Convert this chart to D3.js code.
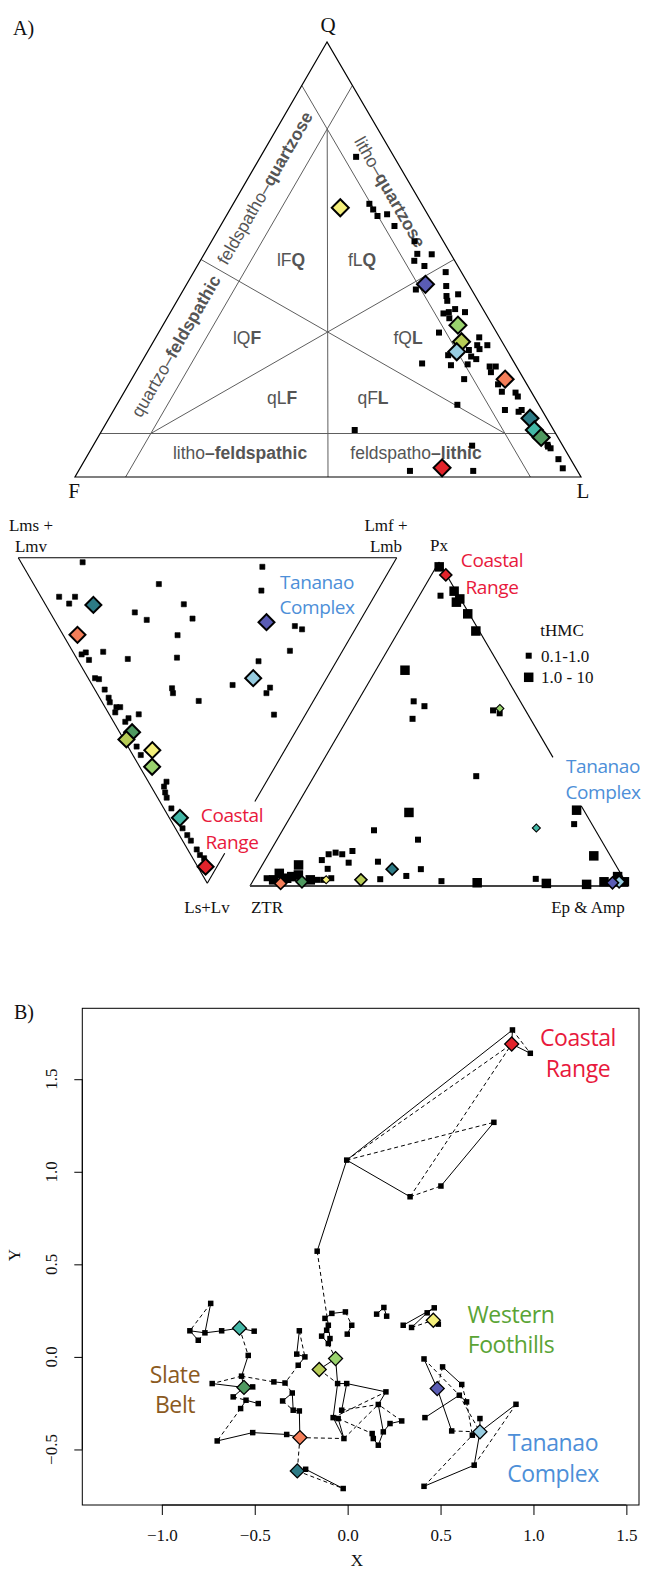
<!DOCTYPE html>
<html>
<head>
<meta charset="utf-8">
<script src="https://cdn.jsdelivr.net/npm/d3@7"></script>
<style>
  body { margin: 0; background: #fff; }
  svg { display: block; }
  .serif { font-family: "Liberation Serif", "Times New Roman", serif; fill: #111; }
  .field { font-family: "Liberation Sans", Arial, sans-serif; fill: #555; font-size: 17.5px; }
  .group { font-family: "Open Sans", "Noto Sans", sans-serif; letter-spacing: -0.4px; }
</style>
</head>
<body>
<svg id="fig" width="646" height="1569"></svg>
<script>
// ---- sample colours (diamonds, same order in every panel)
const sampleColors = ["#f4ef7b", "#5a5cb4", "#9ad36e", "#b7cc56", "#97cce0",
                      "#f47e59", "#2d7b86", "#43b7a6", "#4f9960", "#e2232b"];

// ---- A) QFL, values in % [Q, F, L]
const qflPoints = [
  [73.6,7.5,18.9],[62.8,10.3,26.9],[61.5,10.2,28.3],[60.0,10.1,29.9],[60.4,8.0,31.6],
  [57.7,7.9,34.4],[54.2,5.7,40.1],[51.3,6.6,42.1],[51.2,3.8,45.0],[49.7,8.0,42.3],
  [48.5,6.6,44.9],[47.1,3.1,49.8],[43.1,11.0,45.9],[43.9,4.6,51.5],[41.6,5.7,52.7],
  [42.0,3.2,54.8],[40.5,6.1,53.4],[37.6,8.3,54.1],[37.9,7.1,55.0],[38.6,5.5,55.9],
  [37.9,3.9,58.2],[36.5,7.7,55.8],[33.2,11.4,55.4],[32.1,4.0,63.9],[30.3,5.3,64.4],
  [30.3,3.3,66.4],[29.4,5.3,65.3],[28.0,12.2,59.8],[29.2,7.5,63.3],[27.7,7.8,64.5],
  [27.1,7.1,65.8],[26.1,18.3,55.6],[25.7,12.8,61.5],[25.9,9.4,64.7],[25.4,5.3,69.3],
  [25.4,4.1,70.5],[24.1,5.7,70.2],[21.3,5.7,73.0],[22.5,11.8,65.7],[19.6,5.8,74.6],
  [19.4,3.2,77.4],[18.5,3.2,78.3],[16.6,16.1,67.3],[15.4,7.3,77.3],[15.0,4.8,80.2],
  [15.4,4.0,80.6],[7.4,2.9,89.7],[6.6,2.7,90.7],[7.0,3.0,90.0],[4.1,2.4,93.5],[2.0,2.6,95.4],
  [10.8,39.3,49.9],[7.2,17.9,74.9],[1.4,33.1,65.5],[1.4,20.6,78.0]
];
const qflSamples = [
  [61.9,16.5,21.6],[44.3,8.5,47.2],[34.9,6.8,58.3],[31.1,8.0,60.9],[28.8,10.1,61.1],
  [22.5,3.7,73.8],[13.5,3.3,83.2],[10.8,3.8,85.4],[9.1,3.3,87.6],[2.1,26.4,71.5]
];

// ---- lithic fragments [Lms+Lmv, Lmf+Lmb, Ls+Lv]
const lithPoints = [
  [82.3,16.3,1.4],[58.8,33.1,8.1],[34.1,63.1,2.8],[30.7,59.2,10.1],[83.2,4.8,12.0],
  [79.0,9.0,12.0],[79.5,6.4,14.1],[60.8,22.4,16.8],[56.5,24.4,19.1],[49.1,36.6,14.3],
  [44.6,36.7,18.7],[16.4,62.6,21.0],[14.0,64.0,22.0],[46.0,30.2,23.8],[13.9,57.5,28.6],
  [68.4,1.9,29.7],[67.6,3.3,29.1],[65.6,3.0,31.4],[63.1,8.0,28.9],[55.5,13.4,31.1],
  [42.7,26.6,30.7],[20.6,47.6,31.8],[23.8,37.1,39.1],[13.5,46.6,39.9],[13.6,44.8,41.6],
  [8.3,43.5,48.2],[61.2,1.8,37.0],[60.0,2.7,37.3],[56.9,2.6,40.5],[39.3,20.6,40.1],
  [38.3,20.1,41.6],[30.3,25.7,44.0],[54.6,2.4,43.0],[53.6,2.0,44.4],[51.1,3.0,45.9],
  [50.1,4.0,45.9],[50.6,1.9,47.5],[46.2,4.5,49.3],[46.5,3.1,50.4],[44.1,7.8,48.1],
  [39.7,2.3,58.0],[37.3,2.1,60.6],[26.4,4.8,68.8],[26.3,3.4,70.3],[25.1,2.8,72.1],
  [23.9,2.4,73.7],[21.0,2.0,77.0],[15.0,1.9,83.1],[12.7,2.1,85.2],[10.9,2.2,86.9],
  [8.0,2.4,89.6],[6.3,2.4,91.3],[4.7,3.0,92.3]
];
const lithSamples = [
  [35.0,5.9,59.1],[24.5,55.7,19.8],[32.5,3.3,64.2],[43.5,0.7,55.8],[19.4,43.6,37.0],
  [72.5,3.8,23.7],[72.9,12.6,14.5],[17.3,2.8,79.9],[43.1,3.3,53.6],[3.0,2.1,94.9]
];

// ---- heavy minerals [Px, ZTR, Ep & Amp, tHMC class 0: 0.1-1.0, 1: 1.0-10]
const hmPoints = [
  [98.5,0.7,0.8,1],[91.0,0.5,8.5,1],[88.6,0.2,11.2,1],[87.6,1.6,10.8,1],[89.6,4.8,5.6,0],
  [84.0,0.4,15.6,1],[78.7,0.9,20.4,1],[66.6,25.7,7.7,1],[57.0,28.2,14.8,0],[55.5,26.1,18.4,0],
  [51.6,31.2,17.2,0],[54.2,8.6,37.2,0],[53.3,7.3,39.4,0],[33.9,23.2,42.9,0],[22.7,46.6,30.7,1],
  [23.4,1.9,74.7,1],[19.1,4.7,76.2,0],[17.2,58.6,24.2,0],[14.3,48.4,37.3,0],[9.3,4.4,86.3,1],
  [10.8,67.5,21.7,0],[9.8,70.7,19.5,0],[10.3,72.2,17.5,0],[9.8,74.3,15.9,0],[8.0,77.0,15.0,0],
  [7.2,70.3,22.5,0],[7.5,62.4,30.1,0],[5.2,52.2,42.6,0],[5.3,76.8,17.9,0],[6.5,83.9,9.6,1],
  [2.4,77.3,20.3,0],[1.9,81.3,16.8,0],[1.9,79.7,18.4,0],[3.1,57.1,39.8,0],[2.1,64.5,33.4,0],
  [1.5,48.6,49.9,0],[1.0,39.4,59.6,1],[2.2,23.3,74.5,0],[0.8,21.2,78.0,1],[0.5,10.7,88.8,1],
  [1.3,5.7,93.0,1],[2.9,1.3,95.8,1],[1.3,0.3,98.4,1],[2.4,94.4,3.2,0],[3.9,90.3,5.8,1],
  [1.9,92.8,5.3,1],[2.4,89.1,8.5,1],[2.9,87.5,9.6,1],[3.4,85.5,11.1,1],[1.9,83.1,15.0,1]
];
const hmSamples = [
  [1.9,78.9,19.2,0],[1.0,3.6,95.4,1],[54.8,6.5,38.7,0],[1.9,69.7,28.4,1],[1.3,1.7,97.0,1],
  [0.8,91.5,7.7,1],[5.2,59.8,35.0,1],[17.9,15.3,66.8,0],[1.3,85.6,13.1,1],[96.0,0.2,3.8,1]
];

// ---- B) MDS configuration [id, X, Y]
const mdsNodes = [
  ["u1",0.887,1.766],["CR",0.883,1.690],["u2",0.983,1.640],["u3",0.787,1.267],["u4",-0.005,1.063],
  ["u5",0.336,0.865],["u6",0.502,0.923],["u7",-0.164,0.571],
  ["l1",-0.737,0.289],["l2",-0.849,0.141],["l3",-0.804,0.090],["l4",-0.768,0.130],["l5",-0.678,0.141],
  ["TE",-0.582,0.155],["l6",-0.503,0.139],["l7",-0.535,0.008],["l8",-0.571,-0.104],
  ["m1",-0.260,0.141],["m2",-0.274,0.015],["m3",-0.230,0.000],["m4",-0.266,-0.045],
  ["k1",-0.122,0.208],["k2",-0.085,0.235],["k3",-0.012,0.243],["k4",0.022,0.171],["k5",-0.002,0.123],
  ["k6",-0.104,0.171],["k7",-0.113,0.144],["k8",-0.140,0.112],["k9",-0.095,0.099],["k10",-0.104,0.072],
  ["LG",-0.065,-0.009],["OL",-0.153,-0.068],
  ["r1",0.195,0.267],["r2",0.156,0.231],["r3",0.210,0.220],["r4",0.299,0.171],["r5",0.344,0.159],
  ["r6",0.428,0.238],["r7",0.466,0.265],["YE",0.461,0.198],["r8",0.488,0.177],
  ["s1",0.411,-0.011],["s2",0.511,-0.054],["s3",0.614,-0.149],["PU",0.482,-0.171],["s4",0.601,-0.207],
  ["s5",0.640,-0.243],["s6",0.416,-0.328],["s7",0.560,-0.400],["s8",0.712,-0.333],["LB",0.712,-0.405],
  ["s9",0.671,-0.423],["s10",0.906,-0.256],["s11",0.681,-0.585],["s12",0.411,-0.699],
  ["w1",-0.054,-0.144],["w2",-0.005,-0.144],["w3",0.206,-0.189],["w4",0.165,-0.257],["w5",-0.032,-0.288],
  ["w6",-0.078,-0.328],["w7",-0.051,-0.333],["w8",-0.020,-0.441],["w9",0.192,-0.405],["w10",0.228,-0.360],
  ["w11",0.291,-0.346],["w12",0.132,-0.414],["w13",0.138,-0.441],["w14",0.165,-0.477],["w15",-0.024,-0.711],
  ["v1",-0.729,-0.144],["DG",-0.558,-0.165],["v2",-0.511,-0.162],["v3",-0.616,-0.216],["v4",-0.547,-0.234],
  ["v5",-0.481,-0.252],["v6",-0.576,-0.279],["v7",-0.397,-0.135],["v8",-0.337,-0.141],["v9",-0.298,-0.195],
  ["v10",-0.350,-0.238],["v11",-0.293,-0.288],["v12",-0.260,-0.292],["v13",-0.702,-0.454],["v14",-0.511,-0.409],
  ["v15",-0.328,-0.419],["OR",-0.257,-0.436],["DT",-0.271,-0.616],["v16",-0.226,-0.607]
];
// diamonds: node id -> sample index
const mdsMarked = [["YE",0],["PU",1],["LG",2],["OL",3],["LB",4],["OR",5],["DT",6],["TE",7],["DG",8],["CR",9]];
// nearest neighbour (solid) and second nearest (dashed)
const mdsSolid = [
  ["u4","u1"],["u4","u5"],["u6","u3"],["u1","CR"],["CR","u2"],["u4","u7"],
  ["l1","l4"],["l2","l4"],["l2","l3"],["l4","l5"],["l5","TE"],["TE","l6"],["l7","l8"],
  ["m1","m2"],["m2","m3"],["m3","m4"],
  ["k1","k2"],["k2","k3"],["k4","k5"],["k6","k7"],["k7","k8"],["k8","k10"],["k9","k10"],["LG","OL"],["LG","w1"],
  ["r1","r2"],["r1","r3"],["r4","r7"],["r5","r6"],["r6","r7"],["YE","r8"],
  ["s1","PU"],["s2","s3"],["PU","s7"],["s6","s4"],["s4","s5"],["LB","s8"],["LB","s10"],["LB","s11"],["s11","s12"],
  ["w2","w3"],["w3","w4"],["w1","w2"],["w2","w5"],["w1","w6"],["w6","w8"],["w7","w8"],["w4","w9"],
  ["w9","w10"],["w10","w11"],["w12","w13"],["w13","w14"],["w9","w14"],
  ["v1","DG"],["l8","DG"],["DG","v2"],["DG","v3"],["v4","v5"],["v4","v6"],["v13","v14"],["v14","v15"],
  ["v15","OR"],["OR","v12"],["v11","v12"],["v9","v10"],["v9","v11"],["v7","v8"],["DT","v16"],["v16","w15"]
];
const mdsDashed = [
  ["u4","CR"],["u4","u3"],["u5","u6"],["u5","CR"],["u1","u2"],["u7","k6"],
  ["l1","l2"],["l3","l4"],["TE","l7"],["l8","v1"],["l8","v7"],
  ["m1","m3"],["m4","v8"],
  ["k3","k4"],["k6","k9"],["k10","LG"],["OL","w1"],["r5","YE"],
  ["s1","s4"],["s2","PU"],["s3","s5"],["s5","s9"],["s4","LB"],["s7","LB"],["s12","s9"],["s11","s10"],
  ["w5","w4"],["w6","w3"],["w8","w4"],["w7","w12"],["w11","w4"],
  ["v3","v4"],["v6","v13"],["v8","v9"],["v10","v11"],["OR","w8"],["OR","DT"],["DT","w15"]
];
const xTicks = [-1.0, -0.5, 0.0, 0.5, 1.0, 1.5];
const yTicks = [-0.5, 0.0, 0.5, 1.0, 1.5];

// ------------------------------------------------------------------
const svg = d3.select("#fig");

// barycentric projection onto a triangle A, B, C
function tern(A, B, C) {
  return d => {
    const s = d[0] + d[1] + d[2];
    return [(d[0]*A[0] + d[1]*B[0] + d[2]*C[0]) / s, (d[0]*A[1] + d[1]*B[1] + d[2]*C[1]) / s];
  };
}
const square = s => d3.symbol(d3.symbolSquare, s * s)();
const diamond = r => d3.symbol(d3.symbolSquare, 2 * r * r)();

function seg(g, p, a, b, stroke, width) {
  const pa = p(a), pb = p(b);
  g.append("line").attr("x1", pa[0]).attr("y1", pa[1]).attr("x2", pb[0]).attr("y2", pb[1])
    .attr("stroke", stroke).attr("stroke-width", width || 1);
}
function drawDiamonds(g, p, data, r, order) {
  g.selectAll(null).data(order.map(i => ({d: data[i], i: i}))).join("path")
    .attr("d", o => diamond(typeof r === "function" ? r(o.d) : r))
    .attr("transform", o => `translate(${p(o.d)}) rotate(45)`)
    .attr("fill", o => sampleColors[o.i]).attr("stroke", "#000")
    .attr("stroke-width", typeof r === "function" ? (o => r(o.d) > 5 ? 1.6 : 1.1) : 2);
}
function twoLines(g, x, y, gap, lines, size, color, cls) {
  const t = g.append("text").attr("class", cls).attr("text-anchor", "middle")
    .attr("font-size", size).attr("fill", color);
  lines.forEach((s, i) => t.append("tspan").attr("x", x).attr("y", y + i * gap).text(s));
}

// ---------------- A) QFL ----------------
const gA = svg.append("g");
const Qv = [327, 42], Fv = [75, 477], Lv = [581, 477];
const pq = tern(Qv, Fv, Lv);

gA.append("text").attr("class", "serif").attr("x", 13).attr("y", 35).attr("font-size", 20).text("A)");

const grid = gA.append("g");
[[[90,10,0],[0,10,90]], [[90,0,10],[0,90,10]], [[10,90,0],[10,0,90]],
 [[80,10,10],[0,50,50]], [[10,80,10],[50,0,50]], [[10,10,80],[50,50,0]]]
  .forEach(s => seg(grid, pq, s[0], s[1], "#5e5e5e", 1));
gA.append("path").attr("d", "M" + [pq([100,0,0]), pq([0,100,0]), pq([0,0,100])].join("L") + "Z")
  .attr("fill", "none").attr("stroke", "#000").attr("stroke-width", 1.2);

gA.append("text").attr("class", "serif").attr("x", 328).attr("y", 32).attr("text-anchor", "middle").attr("font-size", 21).text("Q");
gA.append("text").attr("class", "serif").attr("x", 74).attr("y", 498).attr("text-anchor", "middle").attr("font-size", 21).text("F");
gA.append("text").attr("class", "serif").attr("x", 583).attr("y", 498).attr("text-anchor", "middle").attr("font-size", 21).text("L");

function fieldLabel(x, y, rot, normal, bold) {
  const t = gA.append("text").attr("class", "field").attr("text-anchor", "middle")
    .attr("dominant-baseline", "central").attr("transform", `translate(${x},${y}) rotate(${rot})`);
  t.append("tspan").text(normal);
  t.append("tspan").attr("font-weight", "bold").text(bold);
}
fieldLabel(265, 188, -60, "feldspatho–", "quartzose");
fieldLabel(176, 346, -60, "quartzo–", "feldspathic");
fieldLabel(390, 192, 60, "litho–", "quartzose");
fieldLabel(240, 453, 0, "litho", "–feldspathic");
fieldLabel(416, 453, 0, "feldspatho", "–lithic");
fieldLabel(291, 260, 0, "lF", "Q");
fieldLabel(362, 260, 0, "fL", "Q");
fieldLabel(247, 338, 0, "lQ", "F");
fieldLabel(408, 338, 0, "fQ", "L");
fieldLabel(282, 398, 0, "qL", "F");
fieldLabel(373, 398, 0, "qF", "L");

gA.append("g").selectAll("path").data(qflPoints).join("path")
  .attr("d", square(6)).attr("transform", d => `translate(${pq(d)})`).attr("fill", "#000");
drawDiamonds(gA, pq, qflSamples, 8.5, d3.range(10));

// ---------------- lithic fragments (inverted triangle) ----------------
const gL = svg.append("g");
const LmsV = [18.3, 557.7], LmfV = [396.7, 557.7], LsvV = [207.3, 883.3];
const pl = tern(LmsV, LmfV, LsvV);
seg(gL, pl, [100,0,0], [0,100,0], "#000", 1.1);
seg(gL, pl, [100,0,0], [0,0,100], "#000", 1.1);
seg(gL, pl, [0,100,0], [0,25.1,74.9], "#000", 1.1);
seg(gL, pl, [0,9.2,90.8], [0,0,100], "#000", 1.1);
gL.append("g").selectAll("path").data(lithPoints).join("path")
  .attr("d", d3.symbol(d3.symbolSquare, 26)()).attr("stroke", "#000").attr("stroke-width", 0.6)
  .attr("stroke-linejoin", "round").attr("transform", d => `translate(${pl(d)})`).attr("fill", "#000");
drawDiamonds(gL, pl, lithSamples, 8, [8,0,1,2,3,4,5,6,7,9]);

twoLines(gL, 31, 531, 21, ["Lms +", "Lmv"], 17, "#111", "serif");
twoLines(gL, 386, 531, 21, ["Lmf +", "Lmb"], 17, "#111", "serif");
gL.append("text").attr("class", "serif").attr("x", 207).attr("y", 913).attr("text-anchor", "middle").attr("font-size", 17).text("Ls+Lv");
twoLines(gL, 317, 589, 25, ["Tananao", "Complex"], 19, "#4d8fd8", "group");
twoLines(gL, 232, 822, 26.5, ["Coastal", "Range"], 19, "#e8193c", "group");

// ---------------- heavy minerals ----------------
const gH = svg.append("g");
const PxV = [439, 562], ZtrV = [250, 886], EpV = [628, 886];
const ph = tern(PxV, ZtrV, EpV);
seg(gH, ph, [0,100,0], [100,0,0], "#000", 1.1);
seg(gH, ph, [0,100,0], [0,0,100], "#444", 1.8);
seg(gH, ph, [100,0,0], [39.7,0,60.3], "#000", 1.1);
seg(gH, ph, [24.7,0,75.3], [0,0,100], "#000", 1.1);
gH.append("g").selectAll("path").data(hmPoints).join("path")
  .attr("d", d => square(d[3] ? 9.5 : 6)).attr("transform", d => `translate(${ph(d)})`).attr("fill", "#000");
drawDiamonds(gH, ph, hmSamples, d => d[3] ? 6 : 4, [4,0,1,2,3,5,6,7,8,9]);

gH.append("text").attr("class", "serif").attr("x", 439).attr("y", 551).attr("text-anchor", "middle").attr("font-size", 17).text("Px");
gH.append("text").attr("class", "serif").attr("x", 267).attr("y", 913).attr("text-anchor", "middle").attr("font-size", 17).text("ZTR");
gH.append("text").attr("class", "serif").attr("x", 588).attr("y", 913).attr("text-anchor", "middle").attr("font-size", 17).text("Ep & Amp");
twoLines(gH, 492, 567, 26.5, ["Coastal", "Range"], 19, "#e8193c", "group");
twoLines(gH, 603, 773, 26, ["Tananao", "Complex"], 19, "#4d8fd8", "group");

// tHMC legend
const leg = gH.append("g");
leg.append("text").attr("class", "serif").attr("x", 562).attr("y", 636).attr("text-anchor", "middle").attr("font-size", 17).text("tHMC");
[["0.1-1.0", 6, 655.7], ["1.0 - 10", 9.5, 677.3]].forEach(r => {
  leg.append("path").attr("d", square(r[1])).attr("transform", `translate(528.7,${r[2]})`).attr("fill", "#000");
  leg.append("text").attr("class", "serif").attr("x", 541).attr("y", r[2] + 6).attr("font-size", 17).text(r[0]);
});

// ---------------- B) MDS ----------------
const gB = svg.append("g");
const mx = d3.scaleLinear().domain([-1.428, 1.568]).range([82.3, 639]);
const my = d3.scaleLinear().domain([-0.80, 1.883]).range([1505, 1008.3]);
const nodeById = new Map(mdsNodes.map(n => [n[0], n]));
const pm = id => { const n = nodeById.get(id); return [mx(n[1]), my(n[2])]; };

gB.append("text").attr("class", "serif").attr("x", 14).attr("y", 1019).attr("font-size", 20).text("B)");

const xAxis = gB.append("g").attr("transform", "translate(0,1505)")
  .call(d3.axisBottom(mx).tickValues(xTicks).tickSize(10).tickPadding(14).tickFormat(d3.format(".1f")));
xAxis.select(".domain").attr("d", `M${mx(xTicks[0])},0H${mx(xTicks[xTicks.length - 1])}`);
xAxis.selectAll("text").attr("class", "serif").attr("font-size", 17).attr("fill", "#111");
const yAxis = gB.append("g").attr("transform", "translate(82.3,0)")
  .call(d3.axisLeft(my).tickValues(yTicks).tickSize(8).tickFormat(""));
yAxis.select(".domain").attr("d", `M0,${my(yTicks[0])}V${my(yTicks[yTicks.length - 1])}`);
gB.append("g").selectAll("text").data(yTicks).join("text").attr("class", "serif")
  .attr("transform", d => `translate(57,${my(d)}) rotate(-90)`).attr("text-anchor", "middle")
  .attr("font-size", 17).text(d3.format(".1f"));
gB.append("text").attr("class", "serif").attr("x", 357).attr("y", 1566).attr("text-anchor", "middle").attr("font-size", 17).text("X");
gB.append("text").attr("class", "serif").attr("transform", "translate(20,1255) rotate(-90)").attr("text-anchor", "middle").attr("font-size", 17).text("Y");
gB.append("rect").attr("x", 82.3).attr("y", 1008.3).attr("width", 639 - 82.3).attr("height", 1505 - 1008.3)
  .attr("fill", "none").attr("stroke", "#000").attr("stroke-width", 1);

const links = gB.append("g").attr("stroke", "#000").attr("stroke-width", 1);
links.selectAll(".dash").data(mdsDashed).join("line").attr("class", "dash")
  .attr("x1", d => pm(d[0])[0]).attr("y1", d => pm(d[0])[1])
  .attr("x2", d => pm(d[1])[0]).attr("y2", d => pm(d[1])[1]).attr("stroke-dasharray", "4,3");
links.selectAll(".solid").data(mdsSolid).join("line").attr("class", "solid")
  .attr("x1", d => pm(d[0])[0]).attr("y1", d => pm(d[0])[1])
  .attr("x2", d => pm(d[1])[0]).attr("y2", d => pm(d[1])[1]);

const marked = new Set(mdsMarked.map(m => m[0]));
gB.append("g").selectAll("path").data(mdsNodes.filter(n => !marked.has(n[0]))).join("path")
  .attr("d", square(5.5)).attr("transform", n => `translate(${pm(n[0])})`).attr("fill", "#000");
gB.append("g").selectAll("path").data(mdsMarked).join("path")
  .attr("d", diamond(7)).attr("transform", m => `translate(${pm(m[0])}) rotate(45)`)
  .attr("fill", m => sampleColors[m[1]]).attr("stroke", "#000").attr("stroke-width", 1.3);

twoLines(gB, 578, 1046, 31, ["Coastal", "Range"], 23, "#e8193c", "group");
twoLines(gB, 511, 1323, 30, ["Western", "Foothills"], 23, "#5aa435", "group");
twoLines(gB, 175, 1383, 30, ["Slate", "Belt"], 23, "#8b5a1e", "group");
twoLines(gB, 553, 1451, 31, ["Tananao", "Complex"], 23, "#4d8fd8", "group");
</script>
</body>
</html>
